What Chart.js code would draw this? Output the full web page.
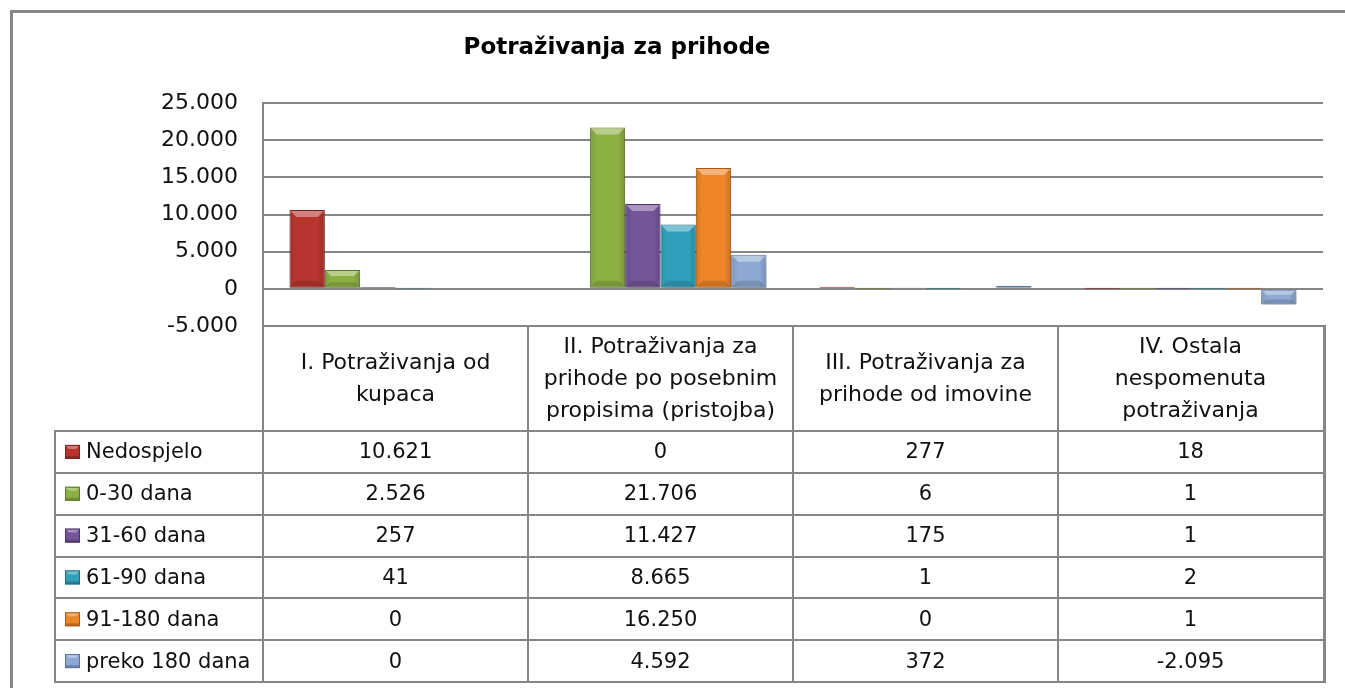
<!DOCTYPE html>
<html>
<head>
<meta charset="utf-8">
<script src="https://cdn.jsdelivr.net/npm/chart.js@4.4.1/dist/chart.umd.min.js"></script>
<style>
  html, body { margin: 0; padding: 0; background: #ffffff; }
  canvas { display: block; }
</style>
</head>
<body>
<canvas id="c" width="1345" height="688"></canvas>
<script>
// ---- data ----
const chartTitle = 'Potraživanja za prihode';
const categories = [
  ['I. Potraživanja od', 'kupaca'],
  ['II. Potraživanja za', 'prihode po posebnim', 'propisima (pristojba)'],
  ['III. Potraživanja za', 'prihode od imovine'],
  ['IV. Ostala', 'nespomenuta', 'potraživanja']
];
const seriesNames = ['Nedospjelo', '0-30 dana', '31-60 dana', '61-90 dana', '91-180 dana', 'preko 180 dana'];
const nedospjelo = [10621, 0, 277, 18];
const dana0_30 = [2526, 21706, 6, 1];
const dana31_60 = [257, 11427, 175, 1];
const dana61_90 = [41, 8665, 1, 2];
const dana91_180 = [0, 16250, 0, 1];
const preko180 = [0, 4592, 372, -2095];
const yTickValues = [-5000, 0, 5000, 10000, 15000, 20000, 25000];

const seriesValues = [nedospjelo, dana0_30, dana31_60, dana61_90, dana91_180, preko180];
const seriesColors = ['#B8352F', '#8DB043', '#74559A', '#31A0BC', '#EE8629', '#8CA8D3'];
const seriesBorders = ['#7E1F1C', '#5C7A22', '#4B3468', '#1D6E84', '#A85A14', '#5A719A'];

const FONT = "'DejaVu Sans', 'Open Sans', sans-serif";
const GRID = '#868686';

function fmt(v) {
  const neg = v < 0;
  let s = String(Math.abs(Math.round(v)));
  let out = '';
  while (s.length > 3) { out = '.' + s.slice(-3) + out; s = s.slice(0, -3); }
  out = s + out;
  return (neg ? '-' : '') + out;
}

const TABLE = { headerTop: 326, headerBottom: 431, bottom: 682, legendLeft: 55 };

const bgPlugin = {
  id: 'bg',
  beforeDraw(chart) {
    const ctx = chart.ctx;
    ctx.save();
    ctx.fillStyle = '#ffffff';
    ctx.fillRect(0, 0, chart.width, chart.height);
    ctx.restore();
  }
};

const shadowBevelPlugin = {
  id: 'shadowBevel',
  beforeDatasetsDraw(chart) {
    const ctx = chart.ctx;
    ctx.save();
    ctx.shadowColor = 'rgba(0,0,0,0.2)';
    ctx.shadowBlur = 7;
    ctx.shadowOffsetX = 1;
    ctx.shadowOffsetY = 5;
  },
  afterDatasetsDraw(chart) {
    const ctx = chart.ctx;
    ctx.restore();
    ctx.save();
    chart.data.datasets.forEach((ds, di) => {
      const meta = chart.getDatasetMeta(di);
      meta.data.forEach(el => {
        const left = el.x - el.width / 2, right = el.x + el.width / 2;
        const top = Math.min(el.y, el.base), bottom = Math.max(el.y, el.base);
        const h = bottom - top;
        if (h < 3) return;
        const b = Math.min(7, h / 3);
        const hg = ctx.createLinearGradient(left, 0, right, 0);
        hg.addColorStop(0, 'rgba(0,0,0,0.10)');
        hg.addColorStop(0.2, 'rgba(0,0,0,0)');
        hg.addColorStop(0.8, 'rgba(0,0,0,0)');
        hg.addColorStop(1, 'rgba(0,0,0,0.16)');
        ctx.fillStyle = hg;
        ctx.fillRect(left + 1, top + 1, right - left - 2, h - 2);
        // top highlight
        ctx.fillStyle = 'rgba(255,255,255,0.38)';
        ctx.beginPath();
        ctx.moveTo(left + 1, top + 1); ctx.lineTo(right - 1, top + 1);
        ctx.lineTo(right - b, top + b); ctx.lineTo(left + b, top + b); ctx.closePath(); ctx.fill();
        // bottom edge
        ctx.fillStyle = 'rgba(0,0,0,0.14)';
        ctx.beginPath();
        ctx.moveTo(left + 1, bottom - 1); ctx.lineTo(right - 1, bottom - 1);
        ctx.lineTo(right - b, bottom - b); ctx.lineTo(left + b, bottom - b); ctx.closePath(); ctx.fill();
      });
    });
    ctx.restore();
  }
};

const tablePlugin = {
  id: 'dataTable',
  afterDraw(chart) {
    const ctx = chart.ctx;
    const xs = chart.scales.x;
    const area = chart.chartArea;
    const n = categories.length;
    const bounds = [];
    for (let i = 0; i <= n; i++) bounds.push(xs.getPixelForValue(i - 0.5));
    const rowCount = seriesNames.length;
    const rowH = (TABLE.bottom - TABLE.headerBottom) / rowCount;

    ctx.save();
    // outer chart frame
    ctx.strokeStyle = GRID;
    ctx.lineWidth = 3;
    ctx.beginPath();
    ctx.moveTo(11.5, chart.height + 5); ctx.lineTo(11.5, 11.5); ctx.lineTo(chart.width + 5, 11.5);
    ctx.stroke();

    // title
    ctx.fillStyle = '#000000';
    ctx.font = 'bold 23px ' + FONT;
    ctx.textAlign = 'center';
    ctx.textBaseline = 'middle';
    ctx.fillText(chartTitle, 617, 48);

    // table lines
    ctx.strokeStyle = GRID;
    ctx.lineWidth = 2;
    ctx.beginPath();
    for (let i = 0; i < n; i++) {
      ctx.moveTo(Math.round(bounds[i]), TABLE.headerTop);
      ctx.lineTo(Math.round(bounds[i]), TABLE.bottom + 1);
    }
    ctx.moveTo(TABLE.legendLeft, TABLE.headerBottom);
    ctx.lineTo(TABLE.legendLeft, TABLE.bottom + 1);
    ctx.moveTo(area.left, TABLE.headerTop);
    ctx.lineTo(area.right + 2, TABLE.headerTop);
    for (let r = 0; r <= rowCount; r++) {
      const y = Math.round(TABLE.headerBottom + r * rowH);
      ctx.moveTo(TABLE.legendLeft - 1, y);
      ctx.lineTo(area.right + 2, y);
    }
    ctx.stroke();
    ctx.lineWidth = 3;
    ctx.beginPath();
    ctx.moveTo(area.right + 1.5, TABLE.headerTop - 1);
    ctx.lineTo(area.right + 1.5, TABLE.bottom + 1);
    ctx.stroke();

    // header text
    ctx.fillStyle = '#111111';
    ctx.font = '22px ' + FONT;
    ctx.textAlign = 'center';
    ctx.textBaseline = 'middle';
    const lineH = 32;
    const headMid = (TABLE.headerTop + TABLE.headerBottom) / 2 + 1;
    for (let i = 0; i < n; i++) {
      const cx = (bounds[i] + bounds[i + 1]) / 2;
      const lines = categories[i];
      const start = headMid - (lines.length - 1) * lineH / 2;
      lines.forEach((t, k) => ctx.fillText(t, cx, start + k * lineH));
    }

    // data rows
    ctx.font = '21px ' + FONT;
    for (let r = 0; r < rowCount; r++) {
      const cy = TABLE.headerBottom + (r + 0.5) * rowH;
      const sx = 65, sy = cy - 7, sw = 15, sh = 14;
      ctx.fillStyle = seriesColors[r];
      ctx.fillRect(sx, sy, sw, sh);
      ctx.fillStyle = 'rgba(255,255,255,0.35)';
      ctx.beginPath();
      ctx.moveTo(sx, sy); ctx.lineTo(sx + sw, sy); ctx.lineTo(sx + sw - 4, sy + 4); ctx.lineTo(sx + 4, sy + 4); ctx.closePath(); ctx.fill();
      ctx.fillStyle = 'rgba(0,0,0,0.2)';
      ctx.fillRect(sx, sy + sh - 3, sw, 3);
      ctx.strokeStyle = seriesBorders[r];
      ctx.lineWidth = 1;
      ctx.strokeRect(sx + 0.5, sy + 0.5, sw - 1, sh - 1);
      ctx.fillStyle = '#111111';
      ctx.textAlign = 'left';
      ctx.fillText(seriesNames[r], 86, cy + 1);
      ctx.textAlign = 'center';
      for (let i = 0; i < n; i++) {
        const cx = (bounds[i] + bounds[i + 1]) / 2;
        ctx.fillText(fmt(seriesValues[r][i]), cx, cy + 1);
      }
    }
    ctx.restore();
  }
};

const datasets = seriesNames.map((name, i) => ({
  label: name,
  data: seriesValues[i],
  backgroundColor: seriesColors[i],
  borderColor: seriesBorders[i],
  borderWidth: 1,
  borderSkipped: false,
  categoryPercentage: 0.8,
  barPercentage: 1.0
}));

new Chart(document.getElementById('c'), {
  type: 'bar',
  data: { labels: categories.map(c => c.join(' ')), datasets },
  plugins: [bgPlugin, shadowBevelPlugin, tablePlugin],
  options: {
    responsive: false,
    animation: false,
    devicePixelRatio: 1,
    layout: { padding: { left: 0, top: 103, right: 22, bottom: 362 } },
    plugins: {
      legend: { display: false },
      title: { display: false },
      tooltip: { enabled: false }
    },
    scales: {
      x: { display: false, offset: true },
      y: {
        min: yTickValues[0],
        max: yTickValues[yTickValues.length - 1],
        afterBuildTicks(scale) { scale.ticks = yTickValues.map(v => ({ value: v })); },
        afterFit(scale) { scale.width = 263; },
        ticks: {
          padding: 25,
          color: '#111111',
          font: { family: FONT, size: 22 },
          callback: (v) => fmt(v)
        },
        grid: { color: GRID, lineWidth: 2, drawTicks: false },
        border: { display: true, color: GRID, width: 2 }
      }
    }
  }
});
</script>
</body>
</html>
